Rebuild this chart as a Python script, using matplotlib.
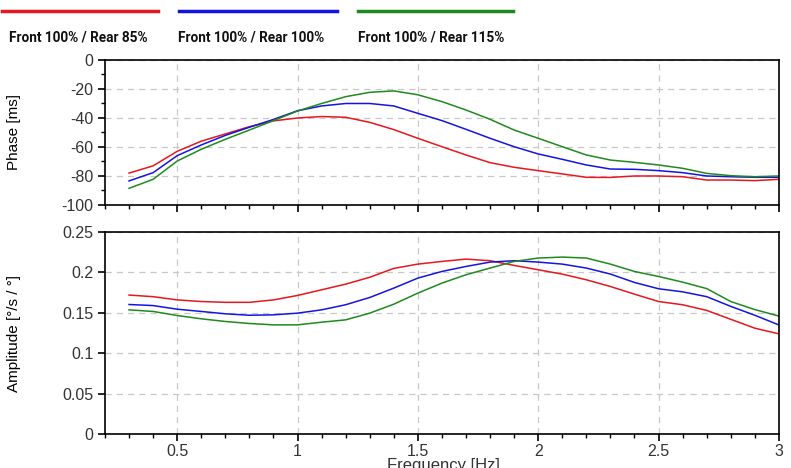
import matplotlib
matplotlib.use("Agg")
import matplotlib.pyplot as plt
from matplotlib.ticker import MultipleLocator

plt.rcParams['font.family'] = ['Liberation Sans', 'DejaVu Sans']
plt.rcParams['axes.unicode_minus'] = False

freq = [0.3, 0.4, 0.5, 0.6, 0.7, 0.8, 0.9, 1.0, 1.1, 1.2, 1.3, 1.4, 1.5,
        1.6, 1.7, 1.8, 1.9, 2.0, 2.1, 2.2, 2.3, 2.4, 2.5, 2.6, 2.7, 2.8, 2.9, 3.0]

# phase [ms]
phase_85 = [-78, -73, -63, -56, -51, -46, -42, -40, -39, -39.5, -43, -48, -54,
            -59.8, -65.5, -70.8, -74, -76.3, -78.6, -80.9, -81, -80, -80, -80.5,
            -82.8, -82.8, -83.2, -82.3]
phase_100 = [-83.4, -77.7, -66, -58.6, -52, -46.4, -41, -35, -31.7, -30, -30, -31.7,
             -36.8, -41.8, -47.8, -54, -59.8, -64.8, -68.5, -72.4, -75.2, -75.4,
             -76.3, -77.7, -80, -80.5, -80.9, -80.9]
phase_115 = [-88.5, -82.3, -69.7, -61.6, -54.7, -48.3, -41.8, -35.2, -30, -25.3,
             -22.3, -21.3, -24, -28.7, -34.5, -40.9, -48.3, -54, -59.8, -65.5, -69,
             -70.6, -72.4, -74.7, -78.2, -79.8, -80.5, -80]

# amplitude [deg/s / deg]
amp_85 = [0.172, 0.170, 0.166, 0.164, 0.163, 0.163, 0.166, 0.1715, 0.1785, 0.1855,
          0.194, 0.205, 0.2103, 0.2136, 0.2165, 0.2145, 0.2087, 0.2033, 0.1979,
          0.1909, 0.1826, 0.1731, 0.164, 0.160, 0.153, 0.142, 0.131, 0.124]
amp_100 = [0.1603, 0.159, 0.1545, 0.1517, 0.1488, 0.147, 0.1475, 0.1496, 0.1537,
           0.160, 0.169, 0.1806, 0.193, 0.2012, 0.2074, 0.2128, 0.2145, 0.2128,
           0.2103, 0.2054, 0.198, 0.1876, 0.1798, 0.176, 0.170, 0.158, 0.147, 0.135]
amp_115 = [0.1537, 0.1517, 0.1467, 0.1426, 0.1393, 0.1368, 0.1351, 0.1351, 0.1384,
           0.1413, 0.1496, 0.1607, 0.1744, 0.1868, 0.1971, 0.2054, 0.2136, 0.2178,
           0.219, 0.2178, 0.2103, 0.2012, 0.195, 0.188, 0.180, 0.164, 0.154, 0.146]

labels = ['Front 100% / Rear 85%', 'Front 100% / Rear 100%', 'Front 100% / Rear 115%']
colors = ['#e8161e', '#1414e0', '#1e8a1e']

fig = plt.figure(figsize=(7.91, 4.68), dpi=100)
ax1 = fig.add_axes([0.1327, 0.562, 0.852, 0.3098])
ax2 = fig.add_axes([0.1327, 0.0726, 0.852, 0.4316])

for ph, c in zip([phase_85, phase_100, phase_115], colors):
    ax1.plot(freq, ph, color=c, lw=1.1)
for am, c in zip([amp_85, amp_100, amp_115], colors):
    ax2.plot(freq, am, color=c, lw=1.1)

ax1.set_ylim(-100, 0)
ax1.yaxis.set_major_locator(MultipleLocator(20))
ax1.yaxis.set_minor_locator(MultipleLocator(10))
ax2.set_ylim(0, 0.25)
ax2.set_yticks([0, 0.05, 0.1, 0.15, 0.2, 0.25])
ax2.set_yticklabels(['0', '0.05', '0.1', '0.15', '0.2', '0.25'])

for ax in (ax1, ax2):
    ax.set_xlim(0.2, 3.0)
    ax.xaxis.set_major_locator(MultipleLocator(0.5))
    ax.xaxis.set_minor_locator(MultipleLocator(0.1))
    ax.grid(True, which='major', color='#c8c8c8', linestyle=(0, (5, 4)), lw=0.9)
    ax.tick_params(which='major', direction='out', length=5, width=1.2,
                   labelsize=11.5, labelcolor='#333333')
    ax.tick_params(which='minor', direction='out', length=3, width=1)
    ax.tick_params(axis='x', pad=2)
    for s in ax.spines.values():
        s.set_linewidth(1.2)

ax1.set_xticklabels([])
ax2.set_xticks([0.5, 1, 1.5, 2, 2.5, 3])
ax2.set_xticklabels(['0.5', '1', '1.5', '2', '2.5', '3'])

ax1.set_ylabel('Phase [ms]', fontsize=11)
ax2.set_ylabel('Amplitude [°/s / °]', fontsize=11)
ax1.yaxis.set_label_coords(-0.124, 0.5)
ax2.yaxis.set_label_coords(-0.124, 0.5)
fig.text(443 / 791, 1 - 458 / 468, 'Frequency [Hz]', ha='center', va='top',
         fontsize=12, color='#333333')

# legend drawn as separate line segments with labels underneath
seg = [(2, 158), (179, 337), (358, 513)]
txt_x = [78, 251, 431]
for (x0, x1), tx, lab, c in zip(seg, txt_x, labels, colors):
    fig.add_artist(plt.Line2D([x0 / 791, x1 / 791], [1 - 11 / 468, 1 - 11 / 468],
                              color=c, lw=2.5, transform=fig.transFigure))
    fig.text(tx / 791, 1 - 37 / 468, lab, ha='center', va='center', fontsize=9.8,
             fontweight='bold', color='#111111', family=['Roboto', 'DejaVu Sans'])

fig.savefig('out.png', dpi=100)
